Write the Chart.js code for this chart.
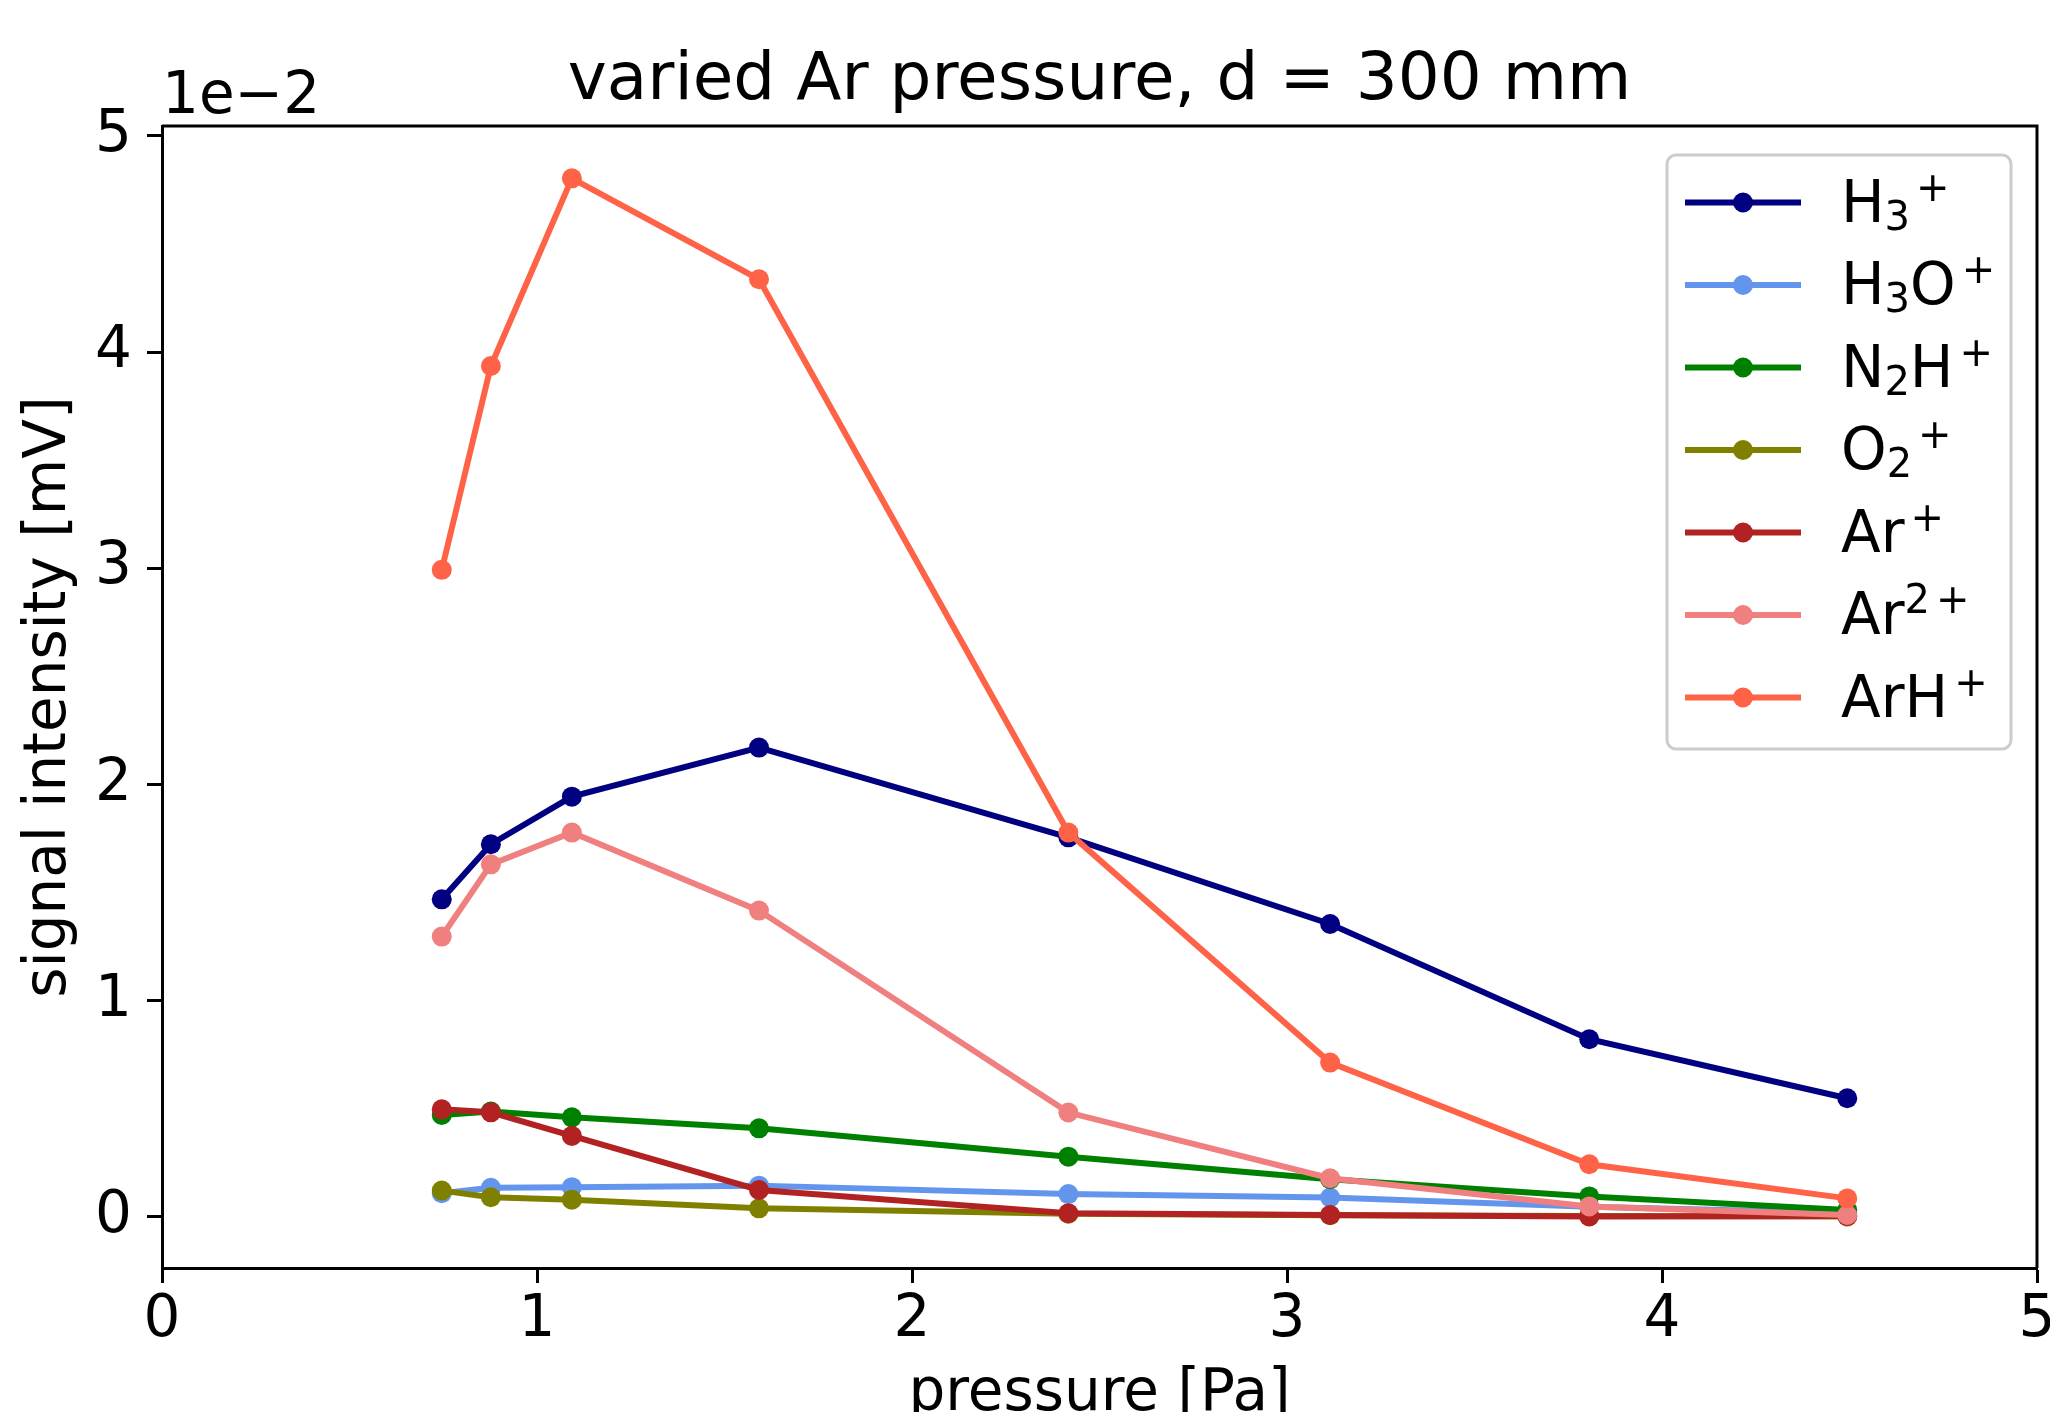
<!DOCTYPE html>
<html>
<head>
<meta charset="utf-8">
<title>varied Ar pressure, d = 300 mm</title>
<script src="https://cdn.jsdelivr.net/npm/chart.js@4.4.1/dist/chart.umd.min.js"></script>
<style>
  html, body { margin: 0; padding: 0; background: #fff; overflow: hidden; }
  #wrap { width: 2050px; height: 1412px; }
</style>
</head>
<body>
<div id="wrap"><canvas id="chart" width="2050" height="1412"></canvas></div>
<script>
// pressure [Pa]
var pressure = [0.746, 0.877, 1.093, 1.592, 2.417, 3.115, 3.806, 4.494];

// signal intensity [mV], one array per ion
var h3   = [0.01469, 0.01724, 0.01944, 0.02171, 0.01756, 0.01355, 0.00822, 0.00549];
var h3o  = [0.00110, 0.00135, 0.00138, 0.00145, 0.00106, 0.00090, 0.00047, 0.00018];
var n2h  = [0.00472, 0.00488, 0.00461, 0.00410, 0.00279, 0.00175, 0.00095, 0.00032];
var o2   = [0.00122, 0.00091, 0.00080, 0.00040, 0.00015, 0.00008, 0.00004, 0.00002];
var ar   = [0.00498, 0.00484, 0.00375, 0.00125, 0.00017, 0.00009, 0.00002, 0.00004];
var ar2  = [0.01297, 0.01631, 0.01778, 0.01417, 0.00483, 0.00179, 0.00049, 0.00009];
var arh  = [0.02993, 0.03936, 0.04804, 0.04337, 0.01778, 0.00714, 0.00244, 0.00086];

var seriesNames  = ['H₃⁺', 'H₃O⁺', 'N₂H⁺', 'O₂⁺', 'Ar⁺', 'Ar²⁺', 'ArH⁺'];
var seriesColors = ['#000080', '#6495ed', '#008000', '#808000', '#b22222', '#f08080', '#ff6347'];
var seriesValues = [h3, h3o, n2h, o2, ar, ar2, arh];

// axis ticks
var xTicks = [0, 1, 2, 3, 4, 5];
var yTicks = [0, 0.01, 0.02, 0.03, 0.04, 0.05];
var yExponent = -2;

var FONT = '"DejaVu Sans", sans-serif';
Chart.defaults.font.family = FONT;
Chart.defaults.color = '#000';

var datasets = seriesNames.map(function(name, i) {
    return {
        label: name,
        data: pressure.map(function(p, j) { return { x: p, y: seriesValues[i][j] }; }),
        borderColor: seriesColors[i],
        backgroundColor: seriesColors[i],
        borderWidth: 6,
        pointRadius: 10,
        pointBorderWidth: 0,
        pointHoverRadius: 10,
        tension: 0,
        order: seriesNames.length - i  // later series on top, like matplotlib
    };
});

// split unicode sub/superscripts into pieces for the legend
var subMap = { '₀': '0', '₁': '1', '₂': '2', '₃': '3', '₄': '4' };
var supMap = { '⁰': '0', '¹': '1', '²': '2', '³': '3', '⁺': '+' };

function drawRichLabel(ctx, label, x, baseline) {
    var cx = x;
    Array.from(label).forEach(function(ch) {
        var kind = 'n', c = ch;
        if (subMap[ch]) { kind = 'sub'; c = subMap[ch]; }
        else if (supMap[ch]) { kind = 'sup'; c = supMap[ch]; }
        if (kind === 'sup' && c === '+') cx += 6;
        ctx.font = (kind === 'n' ? 58 : 40) + 'px ' + FONT;
        var dy = kind === 'sub' ? 8 : (kind === 'sup' ? -21 : 0);
        ctx.fillText(c, cx, baseline + dy);
        cx += ctx.measureText(c).width;
    });
}

function roundRect(ctx, x, y, w, h, r) {
    ctx.beginPath();
    ctx.moveTo(x + r, y);
    ctx.lineTo(x + w - r, y);
    ctx.arcTo(x + w, y, x + w, y + r, r);
    ctx.lineTo(x + w, y + h - r);
    ctx.arcTo(x + w, y + h, x + w - r, y + h, r);
    ctx.lineTo(x + r, y + h);
    ctx.arcTo(x, y + h, x, y + h - r, r);
    ctx.lineTo(x, y + r);
    ctx.arcTo(x, y, x + r, y, r);
    ctx.closePath();
}

var extras = {
    id: 'extras',
    afterDraw: function(chart) {
        var ctx = chart.ctx;
        var a = chart.chartArea;
        ctx.save();

        // top and right spines
        ctx.strokeStyle = '#000';
        ctx.lineWidth = 3;
        ctx.beginPath();
        ctx.moveTo(a.left, a.top);
        ctx.lineTo(a.right, a.top);
        ctx.lineTo(a.right, a.bottom);
        ctx.stroke();

        // offset text of the y axis
        ctx.fillStyle = '#000';
        ctx.textAlign = 'left';
        ctx.textBaseline = 'alphabetic';
        ctx.font = '58px ' + FONT;
        ctx.fillText('1e\u2212' + Math.abs(yExponent), a.left, 113);

        // legend box
        roundRect(ctx, 1667, 155, 344, 594, 9);
        ctx.fillStyle = 'rgba(255,255,255,0.8)';
        ctx.fill();
        ctx.strokeStyle = '#cccccc';
        ctx.lineWidth = 3;
        ctx.stroke();

        seriesNames.forEach(function(name, i) {
            var y = 202.5 + i * 82.5;
            ctx.strokeStyle = seriesColors[i];
            ctx.lineWidth = 6;
            ctx.beginPath();
            ctx.moveTo(1685, y);
            ctx.lineTo(1801, y);
            ctx.stroke();
            ctx.fillStyle = seriesColors[i];
            ctx.beginPath();
            ctx.arc(1743, y, 10, 0, Math.PI * 2);
            ctx.fill();
            ctx.fillStyle = '#000';
            drawRichLabel(ctx, name, 1841, y + 19);
        });
        ctx.restore();
    }
};

var ctx = document.getElementById('chart').getContext('2d');
var chart = new Chart(ctx, {
    type: 'line',
    data: { datasets: datasets },
    plugins: [extras],
    options: {
        responsive: false,
        animation: false,
        events: [],
        layout: { padding: { left: 0, right: 13, top: 0, bottom: 0 } },
        plugins: {
            legend: { display: false },
            tooltip: { enabled: false },
            title: {
                display: true,
                fullSize: false,
                text: 'varied Ar pressure, d = 300 mm',
                font: { size: 66, weight: 'normal', lineHeight: 1.2 },
                color: '#000',
                padding: { top: 42, bottom: 4.8 }
            }
        },
        scales: {
            x: {
                type: 'linear',
                min: 0,
                max: 5,
                afterBuildTicks: function(scale) {
                    scale.ticks = xTicks.map(function(v) { return { value: v }; });
                },
                afterFit: function(scale) {
                    scale.height = 144;
                    scale.paddingLeft = 0;
                    scale.paddingRight = 0;
                },
                ticks: {
                    font: { size: 58 },
                    color: '#000',
                    padding: 3,
                    maxRotation: 0,
                    callback: function(v) { return String(v); }
                },
                grid: {
                    drawOnChartArea: false,
                    drawTicks: true,
                    tickLength: 15,
                    tickWidth: 3,
                    tickColor: '#000'
                },
                border: { display: true, color: '#000', width: 3 },
                title: {
                    display: true,
                    text: 'pressure [Pa]',
                    font: { size: 58, lineHeight: 0.6 },
                    color: '#000',
                    padding: 0
                }
            },
            y: {
                type: 'linear',
                min: -0.00236,
                max: 0.05046,
                afterBuildTicks: function(scale) {
                    scale.ticks = yTicks.map(function(v) { return { value: v }; });
                },
                afterFit: function(scale) {
                    scale.width = 162;
                    scale.paddingTop = 0;
                    scale.paddingBottom = 0;
                },
                ticks: {
                    font: { size: 58 },
                    color: '#000',
                    padding: 15,
                    callback: function(v) { return String(Math.round(v / Math.pow(10, yExponent))); }
                },
                grid: {
                    drawOnChartArea: false,
                    drawTicks: true,
                    tickLength: 15,
                    tickWidth: 3,
                    tickColor: '#000'
                },
                border: { display: true, color: '#000', width: 3 },
                title: {
                    display: true,
                    text: 'signal intensity [mV]',
                    font: { size: 58, lineHeight: 1.2 },
                    color: '#000',
                    padding: { top: 15, bottom: 0 }
                }
            }
        }
    }
});
</script>
</body>
</html>
